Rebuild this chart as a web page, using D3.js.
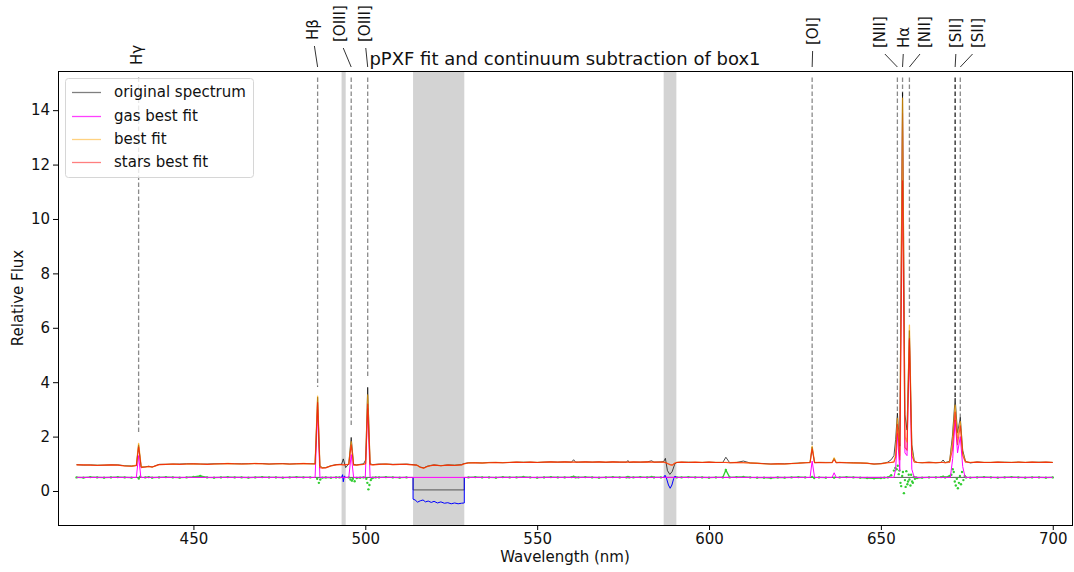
<!DOCTYPE html>
<html>
<head>
<meta charset="utf-8">
<script src="https://cdn.jsdelivr.net/npm/d3@7"></script>
<style>
  body { margin: 0; background: #fff; }
  text { font-family: "DejaVu Sans", sans-serif; fill: #111; }
</style>
</head>
<body>
<svg id="chart"></svg>
<script>
// ---- data ----
// shared wavelength grid (nm) for spectrum / fits / residuals
const wave = [
  416, 418, 420, 422, 424, 426, 428, 430, 432,
  433.4, 434.05, 434.8, 436, 437, 438,
  440, 442, 444, 446, 448, 450, 452, 454, 456, 458, 460, 462, 464, 466, 468, 470, 472, 474, 476, 478, 480, 482, 484,
  485.4, 486.13, 486.8, 487.5, 488.5, 490, 491.5, 492.5,
  493.1, 493.6, 494.3, 495.2, 495.9, 496.6, 497.5, 498.5, 499.5, 500.1, 500.7, 501.4, 502.2, 503,
  504, 506, 508, 510, 512,
  513.9, 515, 516, 517, 518, 519, 520, 522, 524, 526, 528, 528.8,
  530, 532, 534, 536, 538, 540, 542, 544, 546, 548, 550, 552, 554, 556, 558, 560, 560.6, 561.2, 562, 564, 566, 568, 570, 572, 574, 576, 576.4, 576.8, 578, 580, 582, 583.3, 584, 586,
  586.8, 587.3, 587.9, 588.6, 589.3, 590.0, 590.6,
  592, 594, 596, 598, 600, 602, 604, 604.9, 606, 608, 610, 612, 614, 616, 618, 620, 622, 624, 626, 628,
  629.4, 630.0, 630.7, 632, 634, 635.8, 636.4, 637, 638, 640, 642, 644, 646, 648, 650,
  651, 652, 653, 653.8, 654.3, 654.8, 655.5, 656.3, 657.0, 657.6, 658.3, 659.0, 659.7, 660.5, 662, 664, 666, 667.5, 668.1, 668.7, 670, 670.8, 671.6, 672.3, 673.1, 673.8, 674.6, 676, 678, 680,
  682, 684, 686, 688, 690, 692, 694, 696, 698, 700
];

const original = [
  0.97, 0.95, 0.96, 0.95, 0.95, 0.96, 0.96, 0.93, 0.92,
  0.94, 1.70, 0.88, 0.89, 0.91, 0.88,
  0.98, 0.98, 0.99, 0.99, 1.00, 1.00, 0.99, 0.99, 1.00, 1.00, 1.01, 1.00, 1.00, 1.00, 1.01, 1.01, 0.99, 1.00, 1.01, 0.99, 1.00, 1.01, 1.00,
  1.00, 3.45, 0.92, 0.86, 0.86, 0.93, 0.97, 0.98,
  0.98, 1.18, 0.86, 1.00, 1.97, 0.98, 0.96, 0.98, 1.00, 1.14, 3.81, 1.00, 0.97, 0.98,
  0.99, 0.99, 0.98, 0.98, 0.99,
  0.97, 0.95, 0.88, 0.85, 0.91, 0.94, 0.96, 0.93, 0.96, 0.95, 0.97, 1.01,
  1.04, 1.04, 1.03, 1.05, 1.05, 1.04, 1.05, 1.06, 1.06, 1.06, 1.05, 1.06, 1.07, 1.06, 1.07, 1.06, 1.15, 1.06, 1.06, 1.07, 1.06, 1.07, 1.05, 1.07, 1.06, 1.06, 1.12, 1.05, 1.06, 1.06, 1.07, 1.11, 1.06, 1.07,
  1.08, 1.20, 0.75, 0.61, 0.72, 0.98, 1.05,
  1.06, 1.06, 1.05, 1.05, 1.06, 1.05, 1.05, 1.24, 1.04, 1.05, 1.10, 1.03, 1.02, 1.01, 0.99, 1.00, 1.00, 1.01, 1.03, 1.04,
  1.05, 1.62, 1.04, 1.05, 1.05, 1.05, 1.20, 1.04, 1.05, 1.04, 1.04, 1.03, 1.02, 0.99, 1.01,
  1.03, 1.06, 1.15, 1.30, 1.90, 2.86, 1.65, 14.65, 2.80, 2.24, 5.90, 1.70, 1.12, 1.05, 1.04, 1.06, 1.04, 1.05, 1.14, 1.04, 1.10, 2.00, 3.41, 2.13, 2.70, 1.50, 1.10, 1.03, 1.07, 1.05,
  1.05, 1.06, 1.06, 1.05, 1.06, 1.05, 1.06, 1.06, 1.06, 1.05
];

const bestFit = [
  0.96, 0.96, 0.95, 0.94, 0.95, 0.96, 0.95, 0.92, 0.91,
  0.95, 1.75, 0.90, 0.88, 0.90, 0.88,
  0.97, 0.98, 0.99, 0.98, 0.99, 1.00, 0.99, 0.98, 0.99, 1.00, 1.01, 1.00, 0.99, 1.00, 1.01, 1.00, 0.99, 1.00, 1.00, 0.99, 1.00, 1.01, 1.00,
  1.00, 3.49, 0.90, 0.85, 0.86, 0.92, 0.96, 0.97,
  0.97, 0.96, 0.97, 0.99, 1.81, 0.96, 0.95, 0.97, 0.98, 1.02, 3.53, 0.98, 0.96, 0.97,
  0.98, 0.99, 0.97, 0.98, 0.98,
  0.96, 0.95, 0.87, 0.84, 0.90, 0.93, 0.95, 0.93, 0.95, 0.94, 0.96, 1.00,
  1.03, 1.04, 1.03, 1.04, 1.05, 1.04, 1.05, 1.06, 1.05, 1.06, 1.05, 1.06, 1.07, 1.06, 1.07, 1.06, 1.06, 1.06, 1.06, 1.07, 1.06, 1.07, 1.06, 1.07, 1.06, 1.06, 1.06, 1.06, 1.07, 1.06, 1.07, 1.06, 1.06, 1.06,
  1.06, 1.05, 1.01, 0.97, 0.95, 1.02, 1.05,
  1.06, 1.05, 1.06, 1.05, 1.06, 1.05, 1.05, 1.05, 1.04, 1.05, 1.04, 1.03, 1.02, 1.00, 0.99, 1.00, 0.99, 1.01, 1.02, 1.04,
  1.05, 1.65, 1.05, 1.05, 1.04, 1.05, 1.22, 1.05, 1.05, 1.04, 1.03, 1.03, 1.02, 0.99, 1.00,
  1.02, 1.04, 1.05, 1.08, 1.35, 2.67, 1.30, 14.44, 2.00, 1.80, 6.10, 1.50, 1.08, 1.05, 1.04, 1.05, 1.04, 1.05, 1.05, 1.04, 1.07, 1.80, 3.16, 1.95, 2.55, 1.40, 1.08, 1.05, 1.06, 1.05,
  1.05, 1.06, 1.05, 1.05, 1.06, 1.05, 1.06, 1.05, 1.06, 1.05
];

const stars = [
  0.96, 0.96, 0.95, 0.94, 0.95, 0.96, 0.95, 0.92, 0.91,
  0.93, 1.62, 0.86, 0.88, 0.90, 0.88,
  0.97, 0.98, 0.99, 0.98, 0.99, 1.00, 0.99, 0.98, 0.99, 1.00, 1.01, 1.00, 0.99, 1.00, 1.01, 1.00, 0.99, 1.00, 1.00, 0.99, 1.00, 1.01, 1.00,
  0.99, 3.25, 0.86, 0.84, 0.85, 0.92, 0.96, 0.97,
  0.97, 0.96, 0.97, 0.98, 1.70, 0.95, 0.95, 0.97, 0.98, 1.00, 3.20, 0.97, 0.96, 0.97,
  0.98, 0.99, 0.97, 0.98, 0.98,
  0.96, 0.95, 0.87, 0.84, 0.90, 0.93, 0.95, 0.93, 0.95, 0.94, 0.96, 1.00,
  1.03, 1.04, 1.03, 1.04, 1.05, 1.04, 1.05, 1.06, 1.05, 1.06, 1.05, 1.06, 1.07, 1.06, 1.07, 1.06, 1.06, 1.06, 1.06, 1.07, 1.06, 1.07, 1.06, 1.07, 1.06, 1.06, 1.06, 1.06, 1.07, 1.06, 1.07, 1.06, 1.06, 1.06,
  1.06, 1.05, 1.01, 0.97, 0.95, 1.02, 1.05,
  1.06, 1.05, 1.06, 1.05, 1.06, 1.05, 1.05, 1.05, 1.04, 1.05, 1.04, 1.03, 1.02, 1.00, 0.99, 1.00, 0.99, 1.01, 1.02, 1.04,
  1.04, 1.55, 1.04, 1.05, 1.04, 1.04, 1.15, 1.04, 1.05, 1.04, 1.03, 1.03, 1.02, 0.99, 1.00,
  1.02, 1.04, 1.05, 1.06, 1.25, 2.45, 1.15, 11.4, 1.60, 1.50, 5.60, 1.30, 1.06, 1.05, 1.04, 1.05, 1.04, 1.05, 1.05, 1.04, 1.05, 1.50, 2.90, 1.70, 2.40, 1.30, 1.06, 1.05, 1.06, 1.05,
  1.05, 1.06, 1.05, 1.05, 1.06, 1.05, 1.06, 1.05, 1.06, 1.05
];

// residuals (+0.5 offset); null = masked or inside an emission line
const resid = [
  0.50, 0.49, 0.51, 0.50, 0.49, 0.50, 0.51, 0.50, 0.49,
  null, null, null, 0.50, 0.51, 0.49,
  0.50, 0.51, 0.50, 0.49, 0.50, 0.52, 0.55, 0.50, 0.49, 0.50, 0.51, 0.50, 0.50, 0.49, 0.50, 0.51, 0.50, 0.50, 0.49, 0.50, 0.51, 0.50, 0.50,
  null, null, null, 0.49, 0.50, 0.49, 0.50, 0.50,
  null, null, null, 0.50, null, null, 0.48, 0.49, 0.50, null, null, null, 0.49, 0.50,
  0.50, 0.51, 0.50, 0.49, 0.50,
  null, null, null, null, null, null, null, null, null, null, null, null,
  0.50, 0.51, 0.50, 0.50, 0.49, 0.51, 0.50, 0.50, 0.52, 0.50, 0.49, 0.50, 0.51, 0.50, 0.50, 0.51, 0.53, 0.50, 0.50, 0.51, 0.50, 0.49, 0.50, 0.51, 0.50, 0.50, 0.52, 0.50, 0.50, 0.51, 0.50, 0.52, 0.50, 0.50,
  null, null, null, null, null, null, 0.50,
  0.50, 0.51, 0.50, 0.50, 0.49, 0.50, 0.50, 0.77, 0.50, 0.51, 0.52, 0.50, 0.49, 0.49, 0.48, 0.50, 0.49, 0.50, 0.51, 0.50,
  null, null, null, 0.50, 0.49, null, null, null, 0.50, 0.51, 0.50, 0.49, 0.48, 0.47, 0.48,
  0.49, 0.50, 0.58, null, null, null, null, null, null, null, null, null, null, 0.48, 0.49, 0.50, 0.50, 0.51, 0.53, 0.50, 0.55, null, null, null, null, null, null, 0.49, 0.50, 0.51,
  0.50, 0.49, 0.50, 0.51, 0.50, 0.49, 0.50, 0.50, 0.49, 0.50
];

// scattered residual points around the emission lines
const scatterWave = [
  434.1, 434.5, 486.0, 486.5, 486.9, 495.7, 496.1, 496.4, 496.9, 500.3, 500.6, 500.9, 501.2, 501.6, 501.9, 630.0, 630.6, 636.4,
  653.8, 654.2, 654.6, 654.9, 655.2, 655.4, 655.7, 655.9, 656.2, 656.4, 656.7, 657.0, 657.2, 657.4, 657.7, 657.9, 658.1, 658.3, 658.6, 658.8, 659.1, 659.3, 659.6, 659.9, 660.2,
  670.5, 670.9, 671.2, 671.5, 671.8, 672.1, 672.4, 672.7, 673.0, 673.3, 673.6, 674.0, 674.4, 674.8
];
const scatter = [
  0.46, 0.53, 0.45, 0.30, 0.42, 0.42, 0.38, 0.45, 0.36, 0.45, 0.30, 0.06, 0.22, 0.40, 0.47, 0.52, 0.48, 0.49,
  0.75, 0.85, 0.80, 0.93, 0.62, 0.75, 0.30, 0.18, 0.55, 0.70, -0.08, 0.40, 0.15, 0.73, 0.25, 0.35, 0.60, 0.42, 0.20, 0.60, 0.35, 0.30, 0.52, 0.45, 0.50,
  0.60, 0.80, 0.70, 0.35, 0.20, 0.45, 0.10, 0.30, 0.55, 0.25, 0.70, 0.40, 0.55, 0.50
];

// gas best fit (+0.5 offset)
const gasWave = [416, 433.4, 434.05, 434.7, 485.4, 486.13, 486.8, 495.2, 495.9, 496.6, 500.0, 500.7, 501.4,
  629.4, 630.0, 630.7, 635.8, 636.4, 637.0, 653.8, 654.3, 654.8, 655.5, 656.3, 657.0, 657.6, 658.3, 659.0, 659.7,
  670.2, 670.9, 671.6, 672.3, 673.1, 673.8, 674.5, 700];
const gas = [0.50, 0.50, 1.30, 0.50, 0.50, 2.99, 0.50, 0.50, 1.34, 0.50, 0.50, 3.04, 0.50,
  0.50, 1.10, 0.50, 0.50, 0.67, 0.50, 0.50, 0.80, 2.11, 0.75, 13.88, 1.40, 1.30, 5.55, 0.80, 0.50,
  0.50, 1.20, 2.61, 1.40, 2.00, 0.90, 0.50, 0.50];

// reference level of the residuals
const zeroWave = [416, 513.9, 513.9, 528.8, 528.8, 700];
const zeroLevel = [0.5, 0.5, 0.04, 0.04, 0.5, 0.5];

// residuals inside the masked regions (null separates the regions)
const maskWave = [493.1, 493.4, 493.6, 493.9, 494.3, null,
  513.9, 513.9, 514.5, 515.2, 516, 516.8, 517.5, 518.3, 519.2, 520, 521, 522, 523, 524, 525, 526, 527, 528, 528.8, 528.8, null,
  586.8, 587.2, 587.6, 588.2, 588.7, 589.2, 589.7, 590.1, 590.5];
const maskResid = [0.50, 0.60, 0.34, 0.55, 0.50, null,
  0.50, -0.30, -0.33, -0.41, -0.36, -0.33, -0.40, -0.37, -0.42, -0.38, -0.44, -0.40, -0.45, -0.43, -0.47, -0.44, -0.47, -0.45, -0.44, 0.50, null,
  0.50, 0.58, 0.48, 0.22, 0.10, 0.22, 0.45, 0.55, 0.50];

// masked wavelength bands
const bandStart = [493.1, 513.9, 586.8];
const bandEnd = [494.3, 528.8, 590.5];

// emission line markers
const lineNames = ["Hγ", "Hβ", "[OIII]", "[OIII]", "[OI]", "[NII]", "Hα", "[NII]", "[SII]", "[SII]"];
const lineWave = [434.05, 486.13, 495.9, 500.7, 630.0, 654.8, 656.3, 658.3, 671.6, 673.1];
const lineFloor = [2.13, 3.82, 2.35, 4.15, 1.69, 2.87, 14.5, 6.4, 3.46, 2.68];
const lineTop = 15.2;
// where the labels were placed (wavelength of label centre)
const labelWave = [433.6, 484.8, 492.6, 499.9, 630.2, 649.6, 656.6, 662.7, 671.9, 678.2];

const xTicks = [450, 500, 550, 600, 650, 700];
const yTicks = [0, 2, 4, 6, 8, 10, 12, 14];

// ---- layout ----
const width = 1074, height = 572;
const margin = { left: 58, right: 2, top: 71, bottom: 47 };
const labelLift = [6, 31, 29, 29, 26, 23, 23, 23, 23, 23];

[original, bestFit, stars, resid].forEach(a => {
  if (a.length !== wave.length) throw new Error("length mismatch " + a.length + " vs " + wave.length);
});
if (scatter.length !== scatterWave.length || gas.length !== gasWave.length || maskResid.length !== maskWave.length)
  throw new Error("length mismatch in side arrays");

const svg = d3.select("#chart").attr("width", width).attr("height", height);

const x = d3.scaleLinear().domain([410.6, 705.6]).range([margin.left, width - margin.right]);
const y = d3.scaleLinear().domain([-1.25, 15.44]).range([height - margin.bottom, margin.top]);

const plot = svg.append("g");

// masked bands
plot.selectAll("rect.band")
  .data(d3.zip(bandStart, bandEnd))
  .join("rect")
  .attr("x", d => x(d[0]))
  .attr("width", d => x(d[1]) - x(d[0]))
  .attr("y", margin.top)
  .attr("height", height - margin.bottom - margin.top)
  .attr("fill", "#d3d3d3");

// emission line markers
plot.selectAll("line.marker")
  .data(d3.zip(lineWave, lineFloor))
  .join("line")
  .attr("x1", d => x(d[0])).attr("x2", d => x(d[0]))
  .attr("y1", y(lineTop)).attr("y2", d => y(d[1]))
  .attr("stroke", (d, i) => i === 8 ? "#222" : "#8a8a8a")
  .attr("stroke-width", 1.3)
  .attr("stroke-dasharray", "4.5,2.5");

const line = d3.line()
  .defined(d => d[0] != null && d[1] != null)
  .x(d => x(d[0]))
  .y(d => y(d[1]));

// zero level of residuals
plot.append("path")
  .datum(d3.zip(zeroWave, zeroLevel))
  .attr("fill", "none").attr("stroke", "#333").attr("stroke-opacity", 0.8).attr("stroke-width", 1)
  .attr("d", line);

// residuals
const residPts = d3.zip(wave, resid);
plot.append("path")
  .datum(residPts)
  .attr("fill", "none").attr("stroke", "limegreen").attr("stroke-width", 1.4)
  .attr("d", line);
plot.selectAll("circle.res")
  .data(residPts.filter(d => d[1] != null).concat(d3.zip(scatterWave, scatter)))
  .join("circle")
  .attr("cx", d => x(d[0])).attr("cy", d => y(d[1]))
  .attr("r", 1.2).attr("fill", "limegreen");

// residuals in masked regions
plot.append("path")
  .datum(d3.zip(maskWave, maskResid))
  .attr("fill", "none").attr("stroke", "blue").attr("stroke-width", 1)
  .attr("d", line);

const series = [
  { name: "original spectrum", color: "#000", opacity: 0.7, w: 1, pts: d3.zip(wave, original) },
  { name: "gas best fit", color: "magenta", opacity: 1, w: 1, pts: d3.zip(gasWave, gas) },
  { name: "best fit", color: "orange", opacity: 0.7, w: 1.3, pts: d3.zip(wave, bestFit) },
  { name: "stars best fit", color: "red", opacity: 0.65, w: 1.1, pts: d3.zip(wave, stars) }
];
// draw gas first, then spectrum, best fit and stars on top
[series[1], series[0], series[2], series[3]].forEach(s => {
  plot.append("path")
    .datum(s.pts)
    .attr("fill", "none")
    .attr("stroke", s.color)
    .attr("stroke-opacity", s.opacity)
    .attr("stroke-width", s.w)
    .attr("stroke-linejoin", "round")
    .attr("d", line);
});

// axes
const xAxis = svg.append("g")
  .attr("transform", `translate(0,${height - margin.bottom})`)
  .call(d3.axisBottom(x).tickValues(xTicks).tickSize(5).tickPadding(3).tickFormat(d3.format("d")));
const yAxis = svg.append("g")
  .attr("transform", `translate(${margin.left},0)`)
  .call(d3.axisLeft(y).tickValues(yTicks).tickSize(5).tickPadding(3).tickFormat(d3.format("d")));
[xAxis, yAxis].forEach(a => {
  a.select(".domain").remove();
  a.selectAll(".tick line").attr("stroke", "#000");
  a.selectAll(".tick text").attr("font-size", 15).attr("font-family", "DejaVu Sans").attr("fill", "#111");
});

// frame
svg.append("rect")
  .attr("x", margin.left).attr("y", margin.top)
  .attr("width", width - margin.left - margin.right)
  .attr("height", height - margin.top - margin.bottom)
  .attr("fill", "none").attr("stroke", "#000").attr("stroke-width", 1)
  .attr("shape-rendering", "crispEdges");

// axis titles
svg.append("text")
  .attr("x", (margin.left + width - margin.right) / 2).attr("y", 562)
  .attr("text-anchor", "middle").attr("font-size", 15)
  .text("Wavelength (nm)");
svg.append("text")
  .attr("transform", `translate(18,${(margin.top + height - margin.bottom) / 2}) rotate(-90)`)
  .attr("text-anchor", "middle").attr("dominant-baseline", "central").attr("font-size", 15)
  .text("Relative Flux");

// title
svg.append("text")
  .attr("x", (margin.left + width - margin.right) / 2).attr("y", 65)
  .attr("text-anchor", "middle").attr("font-size", 18)
  .text("pPXF fit and continuum subtraction of box1");

// line labels with leaders
const labels = svg.append("g");
lineNames.forEach((name, i) => {
  const lx = x(labelWave[i]);
  const bottom = margin.top - labelLift[i];
  labels.append("text")
    .attr("transform", `translate(${lx},${bottom}) rotate(-90)`)
    .attr("dominant-baseline", "central")
    .attr("font-size", 15)
    .text(name);
  if (labelLift[i] > 12) {
    const tx = x(lineWave[i]);
    labels.append("line")
      .attr("x1", lx + 0.3 * (tx - lx)).attr("y1", bottom + 6)
      .attr("x2", tx).attr("y2", margin.top - 4)
      .attr("stroke", "#333").attr("stroke-width", 1);
  }
});

// legend
const leg = svg.append("g");
leg.append("rect")
  .attr("x", 65.5).attr("y", 78.5).attr("width", 188).attr("height", 99).attr("rx", 3)
  .attr("fill", "#fff").attr("fill-opacity", 0.8)
  .attr("stroke", "#d6d6d6").attr("stroke-width", 1);
const legendStroke = ["#7f7f7f", "#ff40ff", "#ffd280", "#ff7f7f"];
series.forEach((s, i) => {
  const cy = 92.3 + i * 23.3;
  leg.append("line")
    .attr("x1", 72).attr("x2", 101).attr("y1", Math.round(cy) + 0.5).attr("y2", Math.round(cy) + 0.5)
    .attr("stroke", legendStroke[i]).attr("stroke-width", 1.3);
  leg.append("text")
    .attr("x", 114).attr("y", cy)
    .attr("dominant-baseline", "central").attr("font-size", 15)
    .text(s.name);
});
</script>
</body>
</html>
